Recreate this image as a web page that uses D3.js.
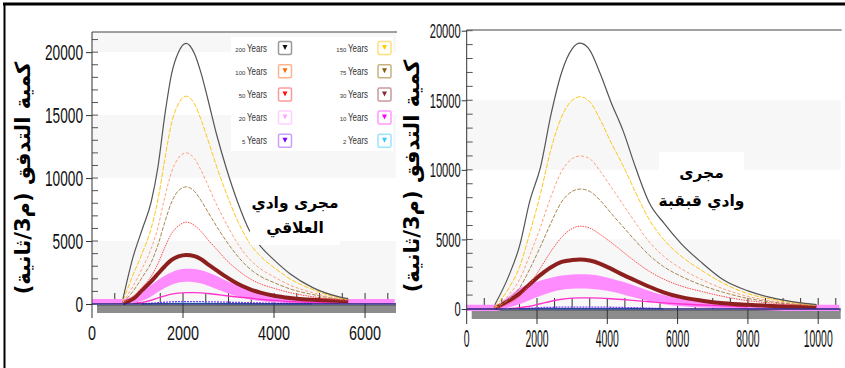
<!DOCTYPE html>
<meta charset="utf-8">
<body style="margin:0;background:white">
<div id="chart"></div>
<script src="https://d3js.org/d3.v7.min.js"></script>
<script>

// ---- data : Allaqi (left) ----
var timeAllaqi = [0, 680, 900, 1100, 1300, 1450, 1600, 1750, 1900, 2070, 2250, 2400, 2550, 2750, 2950, 3200, 3450, 3700, 4000, 4350, 4850, 5450, 5630, 6650];
var allaqi200 = [null, 400, 3700, 5900, 8100, 10900, 15000, 18300, 20000, 20700, 19900, 18300, 16200, 13300, 10800, 8100, 5900, 4600, 3500, 2400, 1300, 550, 420, null];
var allaqi150 = [null, 250, 2300, 4000, 6000, 8300, 11500, 14400, 15900, 16500, 15900, 14600, 13000, 10800, 8800, 6600, 4900, 3800, 2900, 2000, 1150, 480, 400, null];
var allaqi100 = [null, 150, 1400, 2800, 4400, 6100, 8500, 10500, 11600, 12000, 11550, 10600, 9400, 7800, 6400, 4800, 3600, 2800, 2150, 1500, 900, 420, 370, null];
var allaqi75 = [null, 120, 1000, 2100, 3300, 4700, 6500, 8100, 9000, 9300, 8950, 8200, 7300, 6100, 5000, 3800, 2850, 2200, 1700, 1200, 750, 380, 340, null];
var allaqi50 = [null, 80, 600, 1300, 2200, 3200, 4500, 5600, 6200, 6500, 6250, 5750, 5100, 4300, 3500, 2700, 2050, 1600, 1250, 900, 580, 330, 300, null];
var allaqi30 = [null, 60, 400, 1100, 1800, 2400, 3000, 3500, 3780, 3900, 3800, 3550, 3150, 2650, 2150, 1600, 1200, 900, 660, 480, 330, 240, 220, null];
var allaqi20Hi = [400, 400, 600, 1000, 1500, 1900, 2250, 2520, 2720, 2800, 2780, 2680, 2500, 2200, 1850, 1450, 1100, 850, 650, 520, 430, 400, 400, 400];
var allaqi20Lo = [0, 0, 50, 250, 600, 950, 1280, 1520, 1700, 1760, 1730, 1620, 1440, 1170, 900, 600, 370, 230, 130, 60, 20, 0, 0, 0];
var allaqi10 = [null, null, 30, 120, 300, 480, 640, 780, 860, 900, 900, 880, 830, 750, 660, 560, 480, 380, 290, 200, 120, 70, null, null];
var allaqi5 = [null, null, null, 20, 60, 100, 140, 170, 185, 190, 190, 185, 175, 160, 145, 125, 100, 80, 60, 40, 20, null, null, null];
var allaqi2 = [null, null, null, 5, 15, 25, 35, 40, 45, 48, 48, 46, 42, 38, 33, 26, 20, 15, 10, 6, 3, null, null, null];

// ---- data : Qabqaba (right) ----
var timeQabqaba = [0, 800, 1200, 1500, 1800, 2100, 2400, 2700, 3000, 3230, 3500, 3800, 4100, 4450, 4800, 5200, 5600, 6100, 6700, 7300, 8000, 8700, 9400, 9950, 10600];
var qabqaba200 = [null, 300, 2400, 4500, 7800, 10200, 14000, 17000, 18700, 19100, 18600, 16900, 14900, 12800, 10200, 7600, 6200, 4700, 3300, 2100, 1300, 800, 480, 320, null];
var qabqaba150 = [null, 150, 1500, 3000, 5500, 8300, 11500, 13800, 15000, 15250, 14900, 13600, 12000, 10300, 8400, 6400, 5000, 3800, 2750, 1850, 1100, 700, 420, 300, null];
var qabqaba100 = [null, 100, 1000, 2100, 3900, 5900, 8100, 9900, 10800, 11000, 10800, 9900, 8800, 7500, 6200, 4800, 3800, 2900, 2100, 1450, 900, 580, 370, 270, null];
var qabqaba75 = [null, 80, 700, 1500, 2900, 4500, 6200, 7700, 8450, 8620, 8450, 7800, 6900, 5900, 4900, 3850, 3050, 2350, 1700, 1200, 760, 500, 340, 250, null];
var qabqaba50 = [null, 50, 400, 900, 1800, 2950, 4150, 5150, 5780, 5950, 5820, 5350, 4800, 4100, 3400, 2700, 2150, 1650, 1250, 900, 600, 420, 300, 240, null];
var qabqaba30 = [null, 50, 600, 1100, 1800, 2450, 3000, 3380, 3520, 3560, 3480, 3250, 2900, 2450, 2050, 1600, 1200, 850, 600, 420, 300, 220, 180, 160, null];
var qabqaba20Hi = [300, 300, 900, 1500, 1800, 2050, 2250, 2400, 2480, 2500, 2480, 2380, 2200, 1950, 1650, 1300, 1000, 750, 550, 420, 350, 320, 300, 300, 300];
var qabqaba20Lo = [-150, -150, 100, 350, 650, 950, 1200, 1380, 1450, 1470, 1450, 1380, 1250, 1050, 800, 550, 350, 200, 100, 30, -50, -100, -150, -150, -150];
var qabqaba10 = [null, null, 30, 100, 200, 380, 560, 700, 780, 800, 800, 780, 740, 680, 600, 520, 440, 360, 290, 230, 150, null, null, null, null];
var qabqaba5 = [null, null, null, 20, 60, 100, 120, 130, 135, 135, 135, 130, 125, 110, 90, 60, 30, null, null, null, null, null, null, null, null];
var qabqaba2 = [null, null, null, 5, 12, 20, 26, 30, 32, 33, 33, 32, 30, 26, 22, 16, 10, null, null, null, null, null, null, null, null];

// ---- legend ----
var legendLeft = [["200", "#111", "#999"], ["100", "#ff6a00", "#ffb38a"], ["50", "#ff1010", "#ff9a9a"], ["20", "#ffa6ff", "#ffd0ff"], ["5", "#8000ff", "#c9a0ff"]];
var legendRight = [["150", "#ffcc00", "#ffe07a"], ["75", "#8a5c10", "#c9b080"], ["30", "#8e2a2a", "#c89a9a"], ["10", "#ff00ff", "#ff99ff"], ["2", "#33ccff", "#99e5ff"]];

var yTitle = "كمية التدفق (م3/ثانية)";

var svg = d3.select("#chart").append("svg")
  .attr("width", 845).attr("height", 368)
  .style("font-family", "Liberation Sans, Arial, sans-serif");

// outer frame
svg.append("line").attr("x1", 3).attr("x2", 845).attr("y1", 4).attr("y2", 4).attr("stroke", "#000").attr("stroke-width", 3);
svg.append("line").attr("x1", 4.5).attr("x2", 4.5).attr("y1", 3).attr("y2", 368).attr("stroke", "#000").attr("stroke-width", 2);

function drawChart(c) {
  var x = d3.scaleLinear().domain([0, c.xMax]).range([c.left, c.right]);
  var y = d3.scaleLinear().domain([0, c.yMax]).range([c.bottom, c.top]);
  var g = svg.append("g");

  // light bands
  c.bands.forEach(function(b) {
    g.append("rect").attr("x", c.left).attr("width", c.right - c.left)
      .attr("y", y(b[1])).attr("height", y(b[0]) - y(b[1]))
      .attr("fill", "#f7f7f7");
  });

  // grey base
  g.append("rect").attr("x", c.left + 5).attr("width", c.right - c.left - 5)
    .attr("y", c.bottom + 1).attr("height", c.baseH).attr("fill", "#8c8c8c");
  g.append("line").attr("x1", c.left + 5).attr("x2", c.right).attr("y1", c.bottom + 1.5).attr("y2", c.bottom + 1.5)
    .attr("stroke", "#6a6a6a").attr("stroke-width", 1);

  // vertical ticks along bottom
  var vt = d3.range(500, c.xMax, 500);
  g.selectAll(".vt").data(vt).enter().append("line")
    .attr("x1", function(d) { return x(d); }).attr("x2", function(d) { return x(d); })
    .attr("y1", c.bottom - 11)
    .attr("y2", function(d) { return d % 2000 === 0 ? c.bottom + c.baseH + 6 : c.bottom; })
    .attr("stroke", "#333").attr("stroke-width", 1);

  var T = c.time;
  var line = d3.line()
    .defined(function(d) { return d[1] !== null; })
    .x(function(d) { return x(d[0]); })
    .y(function(d) { return y(d[1]); })
    .curve(d3.curveMonotoneX);
  function pts(arr) { return T.map(function(t, i) { return [t, arr[i]]; }); }

  // pink band (20 years)
  var area = d3.area()
    .x(function(d, i) { return x(T[i]); })
    .y0(function(d, i) { return y(c.s20[1][i]); })
    .y1(function(d, i) { return y(c.s20[0][i]); })
    .curve(d3.curveMonotoneX);
  g.append("path").datum(T).attr("d", area).attr("fill", "#ff8cff");

  var styles = [
    [c.s2, "#33ccee", 1.2, null],
    [c.s5, "#7a3cff", 1.3, "2,1"],
    [c.s10, "#ff33cc", 1.4, null],
    [c.s30, "#8e1f1f", 4, null],
    [c.s50, "#ff4a4a", 1, "1.5,1"],
    [c.s75, "#a8874f", 1, "4,1.5"],
    [c.s100, "#ff9f7a", 1, "3,2"],
    [c.s150, "#ffc61a", 1, "5,1.5"],
    [c.s200, "#555", 1.2, null]
  ];
  styles.forEach(function(s) {
    g.append("path").datum(pts(s[0])).attr("d", line)
      .attr("fill", "none").attr("stroke", s[1]).attr("stroke-width", s[2])
      .attr("stroke-dasharray", s[3]);
  });

  // x axis line
  g.append("line").attr("x1", c.left).attr("x2", c.right).attr("y1", c.bottom).attr("y2", c.bottom)
    .attr("stroke", "#22227a").attr("stroke-width", 1.5);
  // top line
  g.append("line").attr("x1", c.left).attr("x2", c.right + 1).attr("y1", c.top).attr("y2", c.top)
    .attr("stroke", "#444").attr("stroke-width", 1.2);

  // y axis
  var yAxis = g.append("g").attr("transform", "translate(" + c.left + ",0)")
    .call(d3.axisLeft(y).tickValues([0, 5000, 10000, 15000, 20000]).tickSize(c.tickOut).tickPadding(c.yPad).tickFormat(d3.format("d")));
  yAxis.select(".domain").remove();
  yAxis.selectAll("line").attr("stroke", "#333");
  yAxis.selectAll("text").style("font-size", c.yFont + "px").attr("fill", "#111")
    .attr("textLength", function(d) { return String(d).length * c.yDigit; })
    .attr("lengthAdjust", "spacingAndGlyphs");
  g.selectAll(".ym").data(d3.range(1000, c.yMax, 1000)).enter().append("line")
    .attr("x1", c.left).attr("x2", c.left + 6)
    .attr("y1", function(d) { return y(d); }).attr("y2", function(d) { return y(d); })
    .attr("stroke", "#555");
  g.append("line").attr("x1", c.left).attr("x2", c.left).attr("y1", c.top).attr("y2", c.bottom + c.baseH + 6)
    .attr("stroke", "#333").attr("stroke-width", 1);

  // x tick labels
  g.selectAll(".xl").data(c.xTicks).enter().append("text")
    .attr("x", function(d) { return x(d); }).attr("y", c.xLabelY)
    .attr("text-anchor", "middle").style("font-size", c.xFont + "px").attr("fill", "#111")
    .attr("textLength", function(d) { return String(d).length * c.xDigit; })
    .attr("lengthAdjust", "spacingAndGlyphs")
    .text(function(d) { return d; });

  // y title
  g.append("text").attr("transform", "translate(" + c.titleX + "," + c.titleY + ") rotate(-90)")
    .attr("text-anchor", "middle").attr("direction", "rtl").attr("dy", "0.35em")
    .style("font-family", "DejaVu Sans, sans-serif").style("font-weight", "bold").style("font-size", "21px")
    .text(yTitle);

  // name box
  g.append("rect").attr("x", c.box[0]).attr("y", c.box[1]).attr("width", c.box[2]).attr("height", c.box[3]).attr("fill", "#fff");
  c.names.forEach(function(n, i) {
    g.append("text").attr("x", c.box[0] + c.box[2] / 2).attr("y", c.nameY[i])
      .attr("text-anchor", "middle").attr("direction", "rtl")
      .style("font-family", "DejaVu Sans, sans-serif").style("font-weight", "bold").style("font-size", "15.5px")
      .text(n);
  });
}

drawChart({
  time: timeAllaqi, xMax: 6680, yMax: 21600,
  left: 92, right: 396, top: 32, bottom: 304, baseH: 8,
  bands: [[0, 5000], [10000, 15000], [20000, 21600]],
  s200: allaqi200, s150: allaqi150, s100: allaqi100, s75: allaqi75, s50: allaqi50, s30: allaqi30,
  s20: [allaqi20Hi, allaqi20Lo], s10: allaqi10, s5: allaqi5, s2: allaqi2,
  tickOut: 6, yPad: 3, yFont: 22, yDigit: 7.6,
  xTicks: [0, 2000, 4000, 6000], xFont: 21, xDigit: 8, xLabelY: 340,
  titleX: 23, titleY: 178,
  box: [250, 182, 90, 63], names: ["مجرى وادي", "العلاقي"], nameY: [208, 233]
});

drawChart({
  time: timeQabqaba, xMax: 10640, yMax: 20050,
  left: 466.7, right: 840.7, top: 30, bottom: 309, baseH: 9,
  bands: [[0, 5000], [10000, 15000]],
  s200: qabqaba200, s150: qabqaba150, s100: qabqaba100, s75: qabqaba75, s50: qabqaba50, s30: qabqaba30,
  s20: [qabqaba20Hi, qabqaba20Lo], s10: qabqaba10, s5: qabqaba5, s2: qabqaba2,
  tickOut: 5, yPad: 1, yFont: 21, yDigit: 6.2,
  xTicks: [0, 2000, 4000, 6000, 8000, 10000], xFont: 23, xDigit: 5.8, xLabelY: 347,
  titleX: 412, titleY: 176,
  box: [659, 152, 85, 63], names: ["مجرى", "وادي قبقبة"], nameY: [178, 206]
});

// legend (left chart)
var lg = svg.append("g");
lg.append("rect").attr("x", 231).attr("y", 37).attr("width", 162).attr("height", 114).attr("fill", "#fff");
function legendCol(items, endX, boxX) {
  items.forEach(function(it, i) {
    var cy = 48 + i * 23.2;
    var t = lg.append("text").attr("x", endX).attr("y", cy + 3.5).attr("text-anchor", "end").attr("fill", "#333");
    t.append("tspan").style("font-size", "6px").text(it[0] + " ");
    t.append("tspan").style("font-size", "10px").attr("textLength", 20).attr("lengthAdjust", "spacingAndGlyphs").text("Years");
    lg.append("rect").attr("x", boxX).attr("y", cy - 6.5).attr("width", 13).attr("height", 13).attr("rx", 1.5)
      .attr("fill", "#fff").attr("stroke", it[2]).attr("stroke-width", 1.5);
    lg.append("path").attr("d", "M" + (boxX + 4) + "," + (cy - 3) + "h5l-2.5,5z").attr("fill", it[1]);
  });
}
legendCol(legendLeft, 267, 278.5);
legendCol(legendRight, 368, 378);

</script>
</body>
